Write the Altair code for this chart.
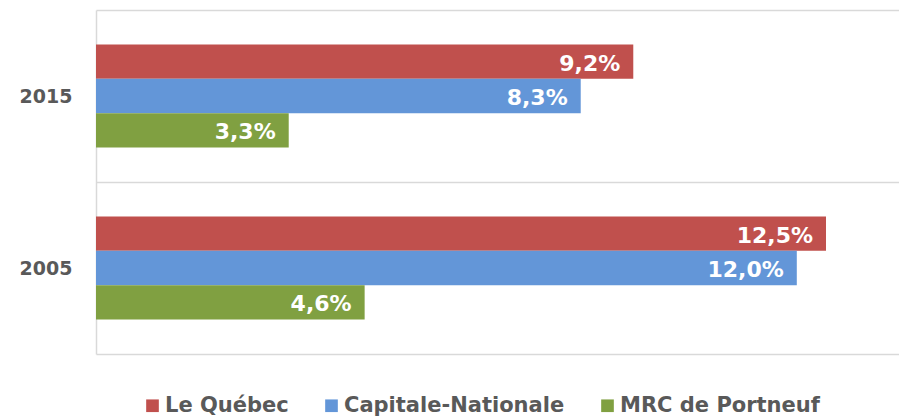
import altair as alt
import pandas as pd

years = ["2015", "2005"]
series = ["Le Québec", "Capitale-Nationale", "MRC de Portneuf"]
values_2015 = [9.2, 8.3, 3.3]
values_2005 = [12.5, 12.0, 4.6]
colors = ["#C0504D", "#6396D8", "#80A041"]

rows = []
for year, vals in zip(years, [values_2015, values_2005]):
    for s, v in zip(series, vals):
        rows.append({"year": year, "series": s, "value": v,
                     "label": f"{v:.1f}%".replace(".", ",")})
df = pd.DataFrame(rows)

FONT = "DejaVu Sans"
GRAY = "#595959"
LINE = "#D9D9D9"

y = alt.Y("year:N", sort=years,
          scale=alt.Scale(paddingInner=0, paddingOuter=0),
          axis=alt.Axis(title=None, tickBand="extent", grid=True, ticks=False,
                        gridColor=LINE, gridWidth=1.5, domainColor=LINE, domainWidth=1.5,
                        labelFont=FONT, labelFontWeight="bold", labelFontSize=19,
                        labelColor=GRAY, labelPadding=24))
yoff = alt.YOffset("series:N", sort=series,
                   scale=alt.Scale(paddingInner=0, paddingOuter=1))
x = alt.X("value:Q", scale=alt.Scale(domain=[0, 13.75], nice=False, zero=True), axis=None)

bars = alt.Chart(df).mark_bar().encode(
    x=x, y=y, yOffset=yoff,
    color=alt.Color("series:N", sort=series,
                    scale=alt.Scale(domain=series, range=colors),
                    legend=alt.Legend(title=None, orient="none", direction="horizontal",
                                      legendX=46, legendY=385, symbolType="square",
                                      symbolSize=160, symbolStrokeWidth=0,
                                      labelFont=FONT, labelFontWeight="bold",
                                      labelFontSize=21, labelColor=GRAY, labelLimit=0,
                                      labelOffset=2, columnPadding=32, columns=3)),
)

labels = alt.Chart(df).mark_text(align="right", baseline="middle", dx=-13, dy=2,
                                 color="white", font=FONT, fontWeight="bold",
                                 fontSize=22).encode(
    x=x, y=y, yOffset=yoff, text="label:N")

chart = alt.layer(bars, labels).properties(
    width=803, height=344,
    autosize=alt.AutoSizeParams(type="none"),
    padding={"left": 88, "top": 2, "right": 0, "bottom": 63},
).configure_view(stroke=None)

chart.save("out.html", embed_options={"renderer": "svg", "actions": False})
